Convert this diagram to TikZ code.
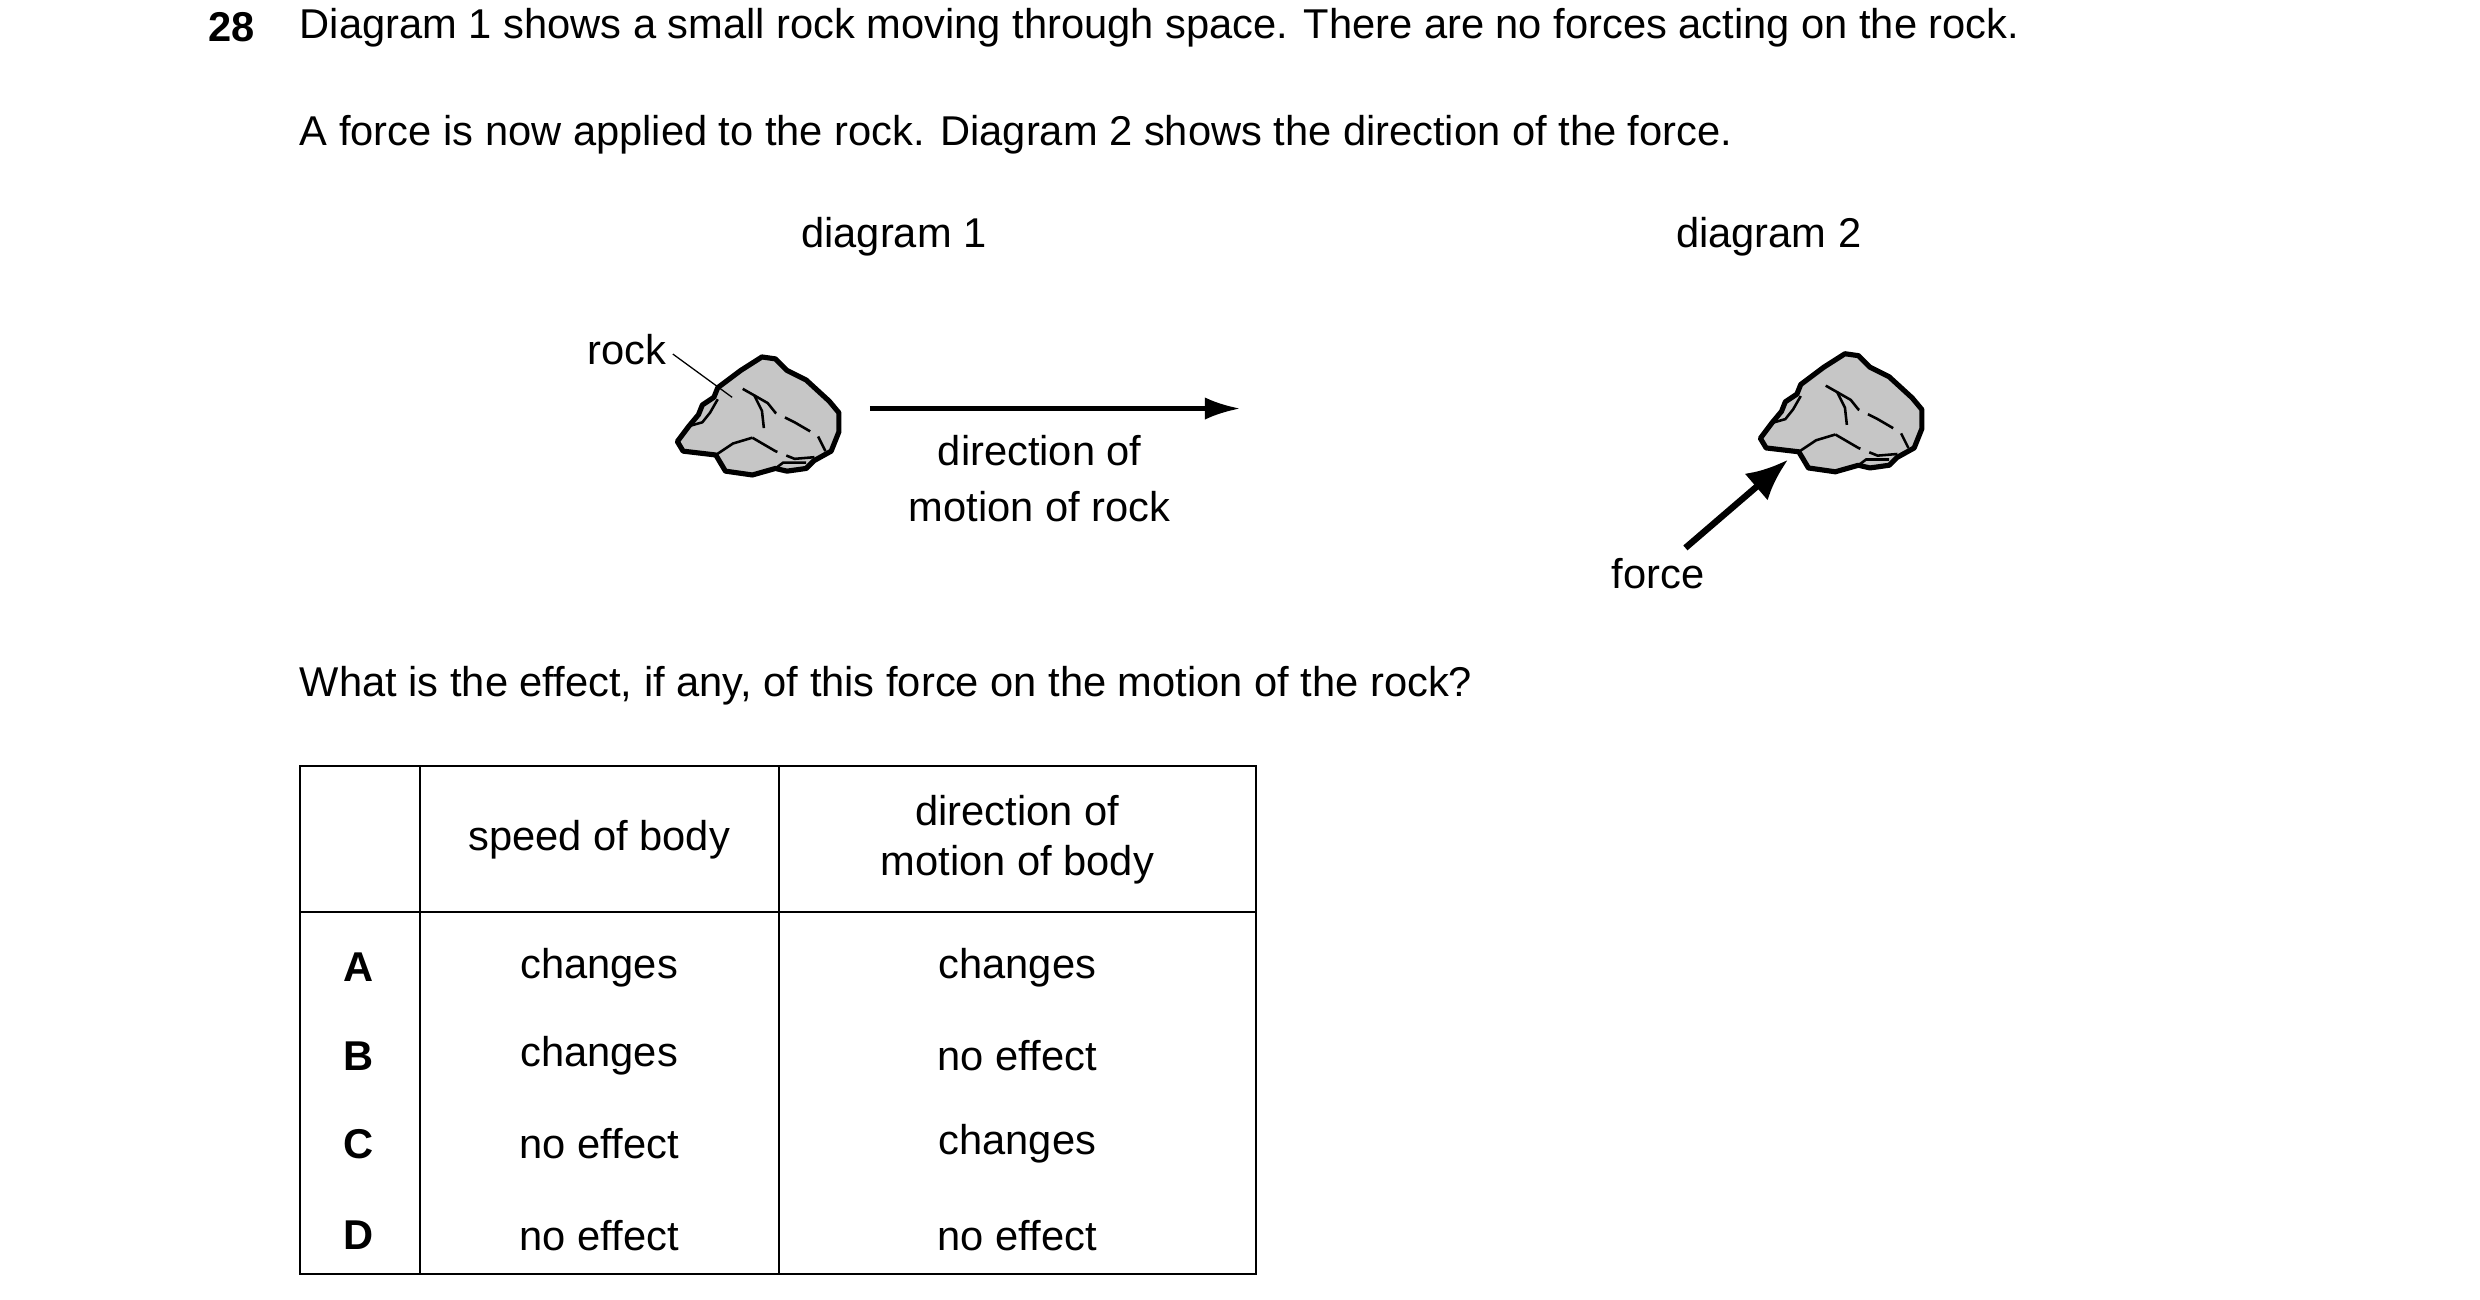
\documentclass[tikz,border=0pt]{standalone}
\usepackage{fontspec}
\setmainfont{Liberation Sans}
\begin{document}
\begin{tikzpicture}[x=1pt,y=-1pt,
 txt/.style={inner sep=0pt,font=\fontsize{26}{31}\selectfont},
 lt/.style={txt,anchor=west},
 rockline/.style={line width=3.2pt,line join=round},
 crack/.style={line width=1.6pt},
 arr/.style={line width=3pt,-{Latex[length=22pt,width=18pt]}}]
\useasboundingbox (0,0) rectangle (1548,811);
\tikzset{>=latex}
\usetikzlibrary{arrows.meta}
\newcommand{\myrock}[1]{%
 \begin{scope}[shift={#1},scale=0.24]
 \draw[rockline,fill=gray!45] (45,315) -- (75,275) -- (100,245) -- (110,220) -- (140,200) -- (150,175) -- (210,130) -- (265,95) -- (300,100) -- (330,130) -- (380,155) -- (440,210) -- (465,240) -- (465,290) -- (445,340) -- (400,365) -- (380,385) -- (330,392) -- (300,385) -- (240,402) -- (170,392) -- (145,350) -- (60,340) -- cycle;
 \draw[crack] (215,178) -- (245,195) -- (265,235) -- (270,280);
 \draw[crack,dash pattern=on 18pt off 6pt] (245,195) -- (280,215) -- (300,240) -- (350,265) -- (410,300) -- (430,340);
 \draw[crack] (145,350) -- (190,320) -- (240,305);
 \draw[crack,dash pattern=on 18pt off 6pt] (240,305) -- (300,340) -- (350,360) -- (410,355);
 \draw[crack] (75,275) -- (110,265) -- (130,240) -- (150,205);
 \draw[crack] (300,385) -- (320,370) -- (380,370);
 \end{scope}}
\myrock{(412,200)}
\myrock{(1088,198)}
% text
\node[lt,font=\fontsize{26}{31}\selectfont\bfseries] at (130,17) {28};
\node[lt] at (187,17) {Diagram 1 shows a small rock moving through space. There are no forces acting on the rock.};
\node[lt] at (187,84) {A force is now applied to the rock. Diagram 2 shows the direction of the force.};
\node[txt] (d1) at (558,148) {diagram 1};
\node[txt] (d2) at (1104,148) {diagram 2};
\node[txt,anchor=east] (rock) at (416,218) {rock};
\coordinate (rk) at (457,248);
\draw[line width=0.8pt] (rock.east) ++(4,3) -- (rk);
\coordinate (a1) at (543,255);
\coordinate (a2) at (774,255);
\draw[line width=2.6pt,-{Latex[length=22pt,width=14pt]}] (a1) -- (a2);
\node[txt] (dm1) at (649,281) {direction of};
\node[txt] (dm2) at (649,316) {motion of rock};
\coordinate (f1) at (1052,342);
\coordinate (f2) at (1116,287);
\draw[line width=4pt,-{Latex[length=26pt,width=22pt]}] (f1) -- (f2);
\node[txt] (force) at (1035,358) {force};
\node[lt] (q) at (187,428) {What is the effect, if any, of this force on the motion of the rock?};
% table
\draw[line width=1.2pt] (187,478) rectangle (784,795);
\draw[line width=1.2pt] (187,569) -- (784,569);
\draw[line width=1.2pt] (262,478) -- (262,795);
\draw[line width=1.2pt] (486,478) -- (486,795);
\node[txt] (h1) at (374,524) {speed of body};
\node[txt,align=center] (h2) at (635,524) {direction of\\motion of body};
\foreach \L/\s/\d/\y in {A/changes/changes/604,B/changes/no effect/659,C/no effect/changes/714,D/no effect/no effect/771}{
 \node[txt,font=\fontsize{26}{31}\selectfont\bfseries] (l\L) at (224,\y) {\L};
 \node[txt] (s\L) at (374,\y) {\s};
 \node[txt] (e\L) at (635,\y) {\d};
}
\end{tikzpicture}
\end{document}
